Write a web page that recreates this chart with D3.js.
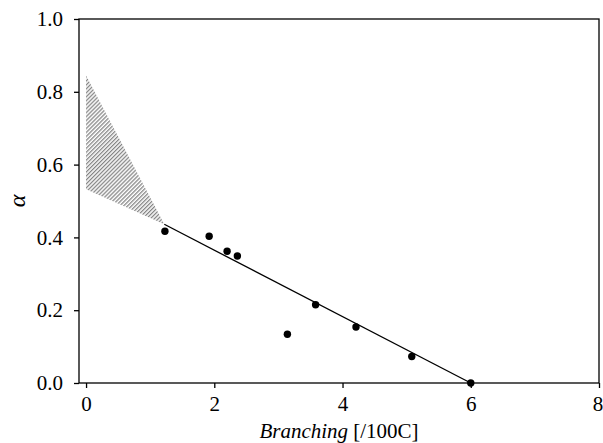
<!DOCTYPE html>
<html>
<head>
<meta charset="utf-8">
<script src="https://cdn.jsdelivr.net/npm/d3@7"></script>
<style>
  html, body { margin: 0; padding: 0; background: #fff; }
  svg { display: block; }
  text { font-family: "Liberation Serif", "Times New Roman", serif; fill: #000; }
</style>
</head>
<body>
<svg id="chart" width="603" height="443"></svg>
<script>
// Measured samples: branching density vs alpha
const branching = [1.23, 1.92, 2.20, 2.36, 3.14, 3.58, 4.21, 5.08, 6.00];
const alphaVals = [0.417, 0.403, 0.362, 0.349, 0.134, 0.215, 0.154, 0.073, 0.0];

// Linear fit segment
const fitX = [1.22, 6.0];
const fitY = [0.436, 0.0];

// Extrapolated uncertainty wedge (hatched)
const wedgeX = [0.0, 0.0, 1.22];
const wedgeY = [0.845, 0.532, 0.436];

const xTicks = [0, 2, 4, 6, 8];
const yTicks = [0.0, 0.2, 0.4, 0.6, 0.8, 1.0];

const svg = d3.select("#chart");
const margin = { left: 79, right: 4, top: 19, bottom: 60 };
const W = 603, H = 443;
const serif = '"Liberation Serif", "Times New Roman", serif';

const x = d3.scaleLinear().domain([-0.11, 8]).range([margin.left, W - margin.right]);
const y = d3.scaleLinear().domain([0, 1]).range([H - margin.bottom, margin.top]);

// hatch pattern
const defs = svg.append("defs");
const pat = defs.append("pattern")
  .attr("id", "hatch")
  .attr("patternUnits", "userSpaceOnUse")
  .attr("width", 2.8).attr("height", 2.8)
  .attr("patternTransform", "rotate(45)");
pat.append("line")
  .attr("x1", 0.7).attr("y1", 0).attr("x2", 0.7).attr("y2", 2.8)
  .attr("stroke", "#636363").attr("stroke-width", 1);

svg.append("path")
  .datum(wedgeX.map((v, i) => [v, wedgeY[i]]))
  .attr("d", d3.line().x(d => x(d[0])).y(d => y(d[1])).curve(d3.curveLinearClosed))
  .attr("fill", "url(#hatch)")
  .attr("stroke", "none");

// fit line
svg.append("path")
  .datum(fitX.map((v, i) => [v, fitY[i]]))
  .attr("d", d3.line().x(d => x(d[0])).y(d => y(d[1])))
  .attr("fill", "none").attr("stroke", "#000").attr("stroke-width", 1.3);

// points
svg.append("g").selectAll("circle")
  .data(branching.map((v, i) => [v, alphaVals[i]]))
  .join("circle")
  .attr("cx", d => x(d[0])).attr("cy", d => y(d[1]))
  .attr("r", 3.7).attr("fill", "#000");

// frame
svg.append("rect")
  .attr("x", margin.left).attr("y", margin.top)
  .attr("width", W - margin.right - margin.left)
  .attr("height", H - margin.bottom - margin.top)
  .attr("fill", "none").attr("stroke", "#000").attr("stroke-width", 1.3);

// axes
const xAxis = svg.append("g")
  .attr("transform", `translate(0,${H - margin.bottom})`)
  .call(d3.axisBottom(x).tickValues(xTicks).tickFormat(d3.format("d")).tickSizeInner(5).tickSizeOuter(0).tickPadding(8));
const yAxis = svg.append("g")
  .attr("transform", `translate(${margin.left},0)`)
  .call(d3.axisLeft(y).tickValues(yTicks).tickFormat(d3.format(".1f")).tickSizeInner(5).tickSizeOuter(0).tickPadding(11));

[xAxis, yAxis].forEach(g => {
  g.attr("font-family", null).attr("font-size", null);
  g.select(".domain").remove();
  g.selectAll(".tick line").attr("stroke", "#000").attr("stroke-width", 1.3);
  g.selectAll(".tick text").style("font-family", serif).style("font-size", "21px");
});
// keep the last x label inside the canvas
xAxis.selectAll(".tick text").filter(d => d === xTicks[xTicks.length - 1]).attr("dx", "-1.5");

// axis titles
const xt = svg.append("text")
  .attr("x", (margin.left + W - margin.right) / 2)
  .attr("y", 438)
  .attr("text-anchor", "middle")
  .style("font-family", serif)
  .style("font-size", "21px");
xt.append("tspan").attr("font-style", "italic").text("Branching");
xt.append("tspan").text(" [/100C]");

svg.append("text")
  .attr("transform", `translate(25,${(margin.top + H - margin.bottom) / 2}) rotate(-90)`)
  .attr("text-anchor", "middle")
  .style("font-family", serif)
  .style("font-size", "24px")
  .attr("font-style", "italic")
  .text("α");
</script>
</body>
</html>
